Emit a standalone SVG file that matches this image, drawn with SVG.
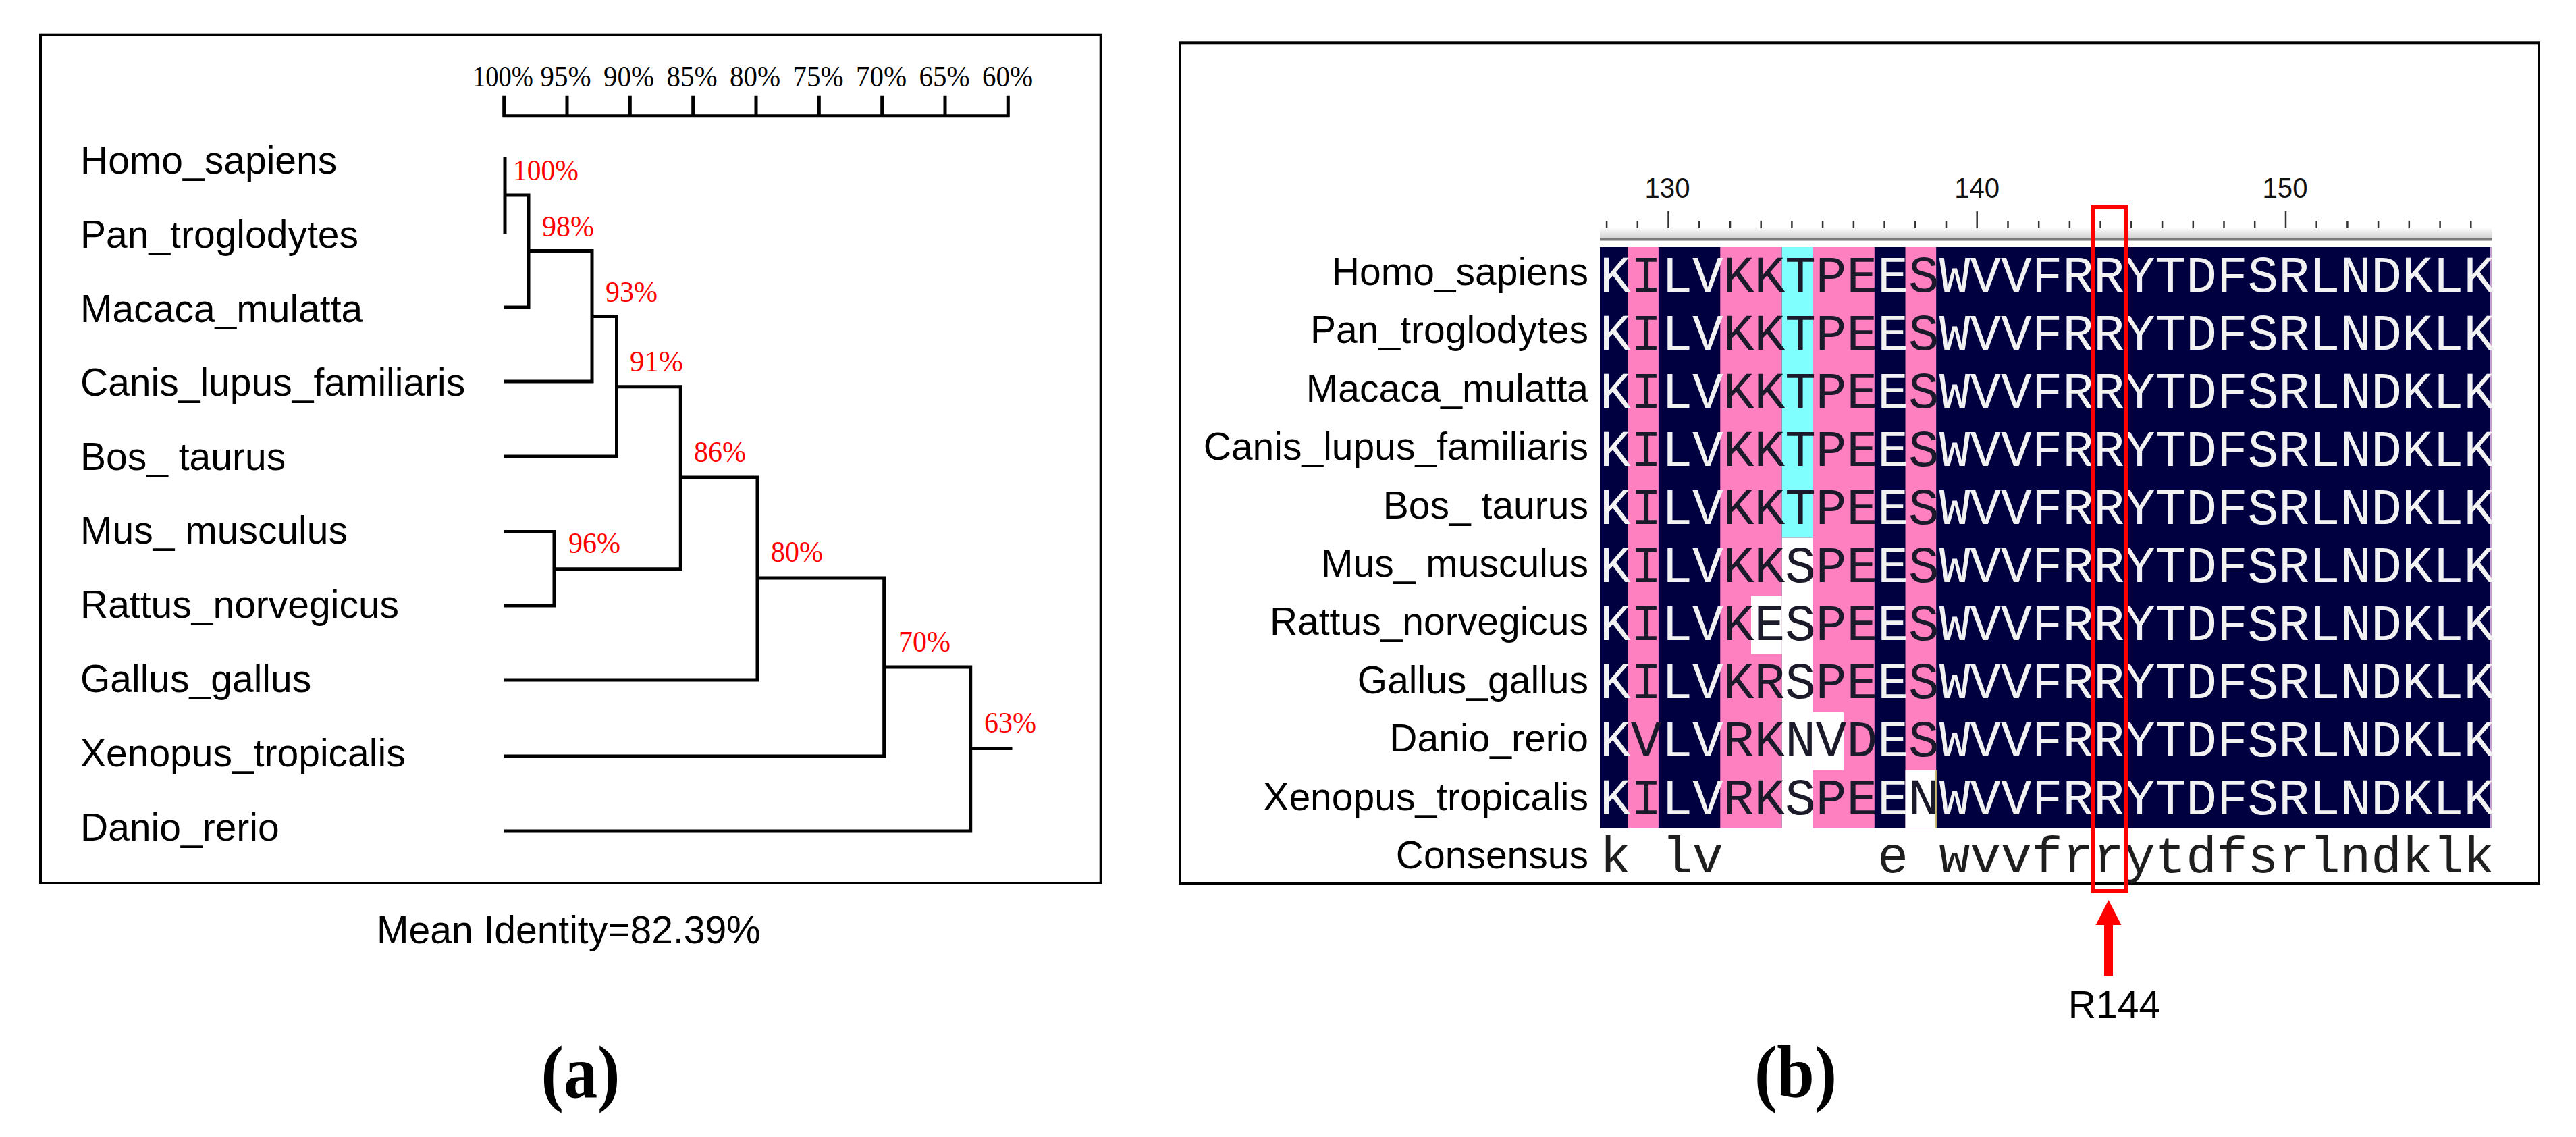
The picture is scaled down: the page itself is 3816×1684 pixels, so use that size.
<svg xmlns="http://www.w3.org/2000/svg" width="3816" height="1684" viewBox="0 0 3816 1684">
<style>
.frame{fill:none;stroke:#000;stroke-width:4}
.tree{fill:none;stroke:#000;stroke-width:5;stroke-linejoin:miter;stroke-linecap:butt}
.lab{font-family:"Liberation Sans",Arial,sans-serif;font-size:57px;fill:#000}
.pct{font-family:"Liberation Serif","Times New Roman",serif;font-size:44px;fill:#FF0000}
.scl{font-family:"Liberation Serif","Times New Roman",serif;font-size:45px;fill:#000;text-anchor:middle}
.seq{font-family:"Liberation Mono","Courier New",monospace;font-size:76.15px}
.L{fill:#F2F2F2}
.D{fill:#1A1A2A}
.num{font-family:"Liberation Sans",Arial,sans-serif;font-size:42px;fill:#111;text-anchor:middle}
.cap{font-family:"Liberation Serif","Times New Roman",serif;font-size:110px;font-weight:bold;fill:#000;text-anchor:middle}
.navy{fill:#000040}
.pink{fill:#FF80C0}
.cyan{fill:#80FFFF}
.white{fill:#FFFFFF}
.tick{stroke:#333;stroke-width:2.5}
</style>
<defs>
<linearGradient id="rulerGrad" x1="0" y1="0" x2="0" y2="1">
<stop offset="0" stop-color="#FAFAFA"/>
<stop offset="1" stop-color="#D4D4D4"/>
</linearGradient>
</defs>
<rect width="3816" height="1684" fill="#FFFFFF"/>

<!-- Panel (a) -->
<g id="panel-a">
<rect class="frame" x="60" y="51.7" width="1570.7" height="1256.3"/>
<g id="scale-a">
<path class="tree" d="M746.7 141.7 V171.7 H1493.3 V141.7 M840 141.7 V171.7 M933.3 141.7 V171.7 M1026.7 141.7 V171.7 M1120 141.7 V171.7 M1213.3 141.7 V171.7 M1306.7 141.7 V171.7 M1400 141.7 V171.7"/>
<text class="scl" x="745" y="128.3" textLength="90" lengthAdjust="spacingAndGlyphs">100%</text>
<text class="scl" x="838" y="128.3" textLength="75" lengthAdjust="spacingAndGlyphs">95%</text>
<text class="scl" x="931.5" y="128.3" textLength="75" lengthAdjust="spacingAndGlyphs">90%</text>
<text class="scl" x="1025" y="128.3" textLength="75" lengthAdjust="spacingAndGlyphs">85%</text>
<text class="scl" x="1118.5" y="128.3" textLength="75" lengthAdjust="spacingAndGlyphs">80%</text>
<text class="scl" x="1212" y="128.3" textLength="75" lengthAdjust="spacingAndGlyphs">75%</text>
<text class="scl" x="1305.5" y="128.3" textLength="75" lengthAdjust="spacingAndGlyphs">70%</text>
<text class="scl" x="1399" y="128.3" textLength="75" lengthAdjust="spacingAndGlyphs">65%</text>
<text class="scl" x="1492.5" y="128.3" textLength="75" lengthAdjust="spacingAndGlyphs">60%</text>
</g>

<g id="leaf-homo"><text class="lab" x="119" y="257">Homo_sapiens</text></g>
<g id="leaf-pan"><text class="lab" x="119" y="367">Pan_troglodytes</text></g>
<g id="leaf-macaca"><text class="lab" x="119" y="477">Macaca_mulatta</text></g>
<g id="leaf-canis"><text class="lab" x="119" y="586">Canis_lupus_familiaris</text></g>
<g id="leaf-bos"><text class="lab" x="119" y="696">Bos_ taurus</text></g>
<g id="leaf-mus"><text class="lab" x="119" y="805">Mus_ musculus</text></g>
<g id="leaf-rattus"><text class="lab" x="119" y="915">Rattus_norvegicus</text></g>
<g id="leaf-gallus"><text class="lab" x="119" y="1025">Gallus_gallus</text></g>
<g id="leaf-xenopus"><text class="lab" x="119" y="1135">Xenopus_tropicalis</text></g>
<g id="leaf-danio"><text class="lab" x="119" y="1245">Danio_rerio</text></g>

<g id="connectors">
<path class="tree" d="M748 232 V347"/>
<path class="tree" d="M748 289 H783 V455 H747"/>
<path class="tree" d="M783 371.5 H877 V565 H747"/>
<path class="tree" d="M877 468.5 H913.5 V676 H747"/>
<path class="tree" d="M913.5 572.7 H1008.3 V842.8 H821"/>
<path class="tree" d="M747 787.5 H821 V897 H747"/>
<path class="tree" d="M1008.3 707 H1122 V1007 H747"/>
<path class="tree" d="M1122 856 H1309.7 V1120 H747"/>
<path class="tree" d="M1309.7 988 H1437.7 V1231 H747"/>
<path class="tree" d="M1437.7 1108.5 H1499.5"/>
</g>

<g id="node-100"><text class="pct" x="760" y="266.7" textLength="97" lengthAdjust="spacingAndGlyphs">100%</text></g>
<g id="node-98"><text class="pct" x="803" y="350" textLength="77" lengthAdjust="spacingAndGlyphs">98%</text></g>
<g id="node-93"><text class="pct" x="897" y="446.7" textLength="77" lengthAdjust="spacingAndGlyphs">93%</text></g>
<g id="node-91"><text class="pct" x="933" y="550" textLength="79" lengthAdjust="spacingAndGlyphs">91%</text></g>
<g id="node-86"><text class="pct" x="1028" y="683.5" textLength="77" lengthAdjust="spacingAndGlyphs">86%</text></g>
<g id="node-96"><text class="pct" x="842" y="818.7" textLength="77" lengthAdjust="spacingAndGlyphs">96%</text></g>
<g id="node-80"><text class="pct" x="1142" y="832" textLength="77" lengthAdjust="spacingAndGlyphs">80%</text></g>
<g id="node-70"><text class="pct" x="1331" y="965" textLength="77" lengthAdjust="spacingAndGlyphs">70%</text></g>
<g id="node-63"><text class="pct" x="1458" y="1085" textLength="77" lengthAdjust="spacingAndGlyphs">63%</text></g>

<text id="mean-identity" class="lab" x="558" y="1397" font-size="54">Mean Identity=82.39%</text>
<text id="cap-a" class="cap" x="860" y="1625" textLength="117" lengthAdjust="spacingAndGlyphs">(a)</text>
</g>

<!-- Panel (b) -->
<g id="panel-b">
<rect class="frame" x="1748" y="63.3" width="2013" height="1245.7"/>

<g id="ruler">
<rect x="2370" y="338" width="1321" height="14" fill="url(#rulerGrad)"/>
<rect x="2370" y="352" width="1321" height="4.5" fill="#7A7A7A"/>
<path class="tick" d="M2380.1 327V338 M2425.8 327V338 M2471.5 313V338 M2517.3 327V338 M2563 327V338 M2608.7 327V338 M2654.4 327V338 M2700.1 327V338 M2745.9 327V338 M2791.6 327V338 M2837.3 327V338 M2883 327V338 M2928.7 313V338 M2974.5 327V338 M3020.2 327V338 M3065.9 327V338 M3111.6 327V338 M3157.3 327V338 M3203.1 327V338 M3248.8 327V338 M3294.5 327V338 M3340.2 327V338 M3386 313V338 M3431.7 327V338 M3477.4 327V338 M3523.1 327V338 M3568.8 327V338 M3614.6 327V338 M3660.3 327V338"/>
<text class="num" x="2470" y="293" textLength="67" lengthAdjust="spacingAndGlyphs">130</text>
<text class="num" x="2928.7" y="293" textLength="67" lengthAdjust="spacingAndGlyphs">140</text>
<text class="num" x="3385" y="293" textLength="67" lengthAdjust="spacingAndGlyphs">150</text>
</g>

<g id="alignment-bg">
<rect class="navy" x="2370" y="366" width="1321" height="860.7"/>
<rect class="pink" x="2411.2" y="366" width="45.7" height="860.7"/>
<rect class="pink" x="2548.3" y="366" width="91.4" height="860.7"/>
<rect class="pink" x="2685.4" y="366" width="91.4" height="860.7"/>
<rect class="pink" x="2822.5" y="366" width="45.7" height="860.7"/>
<rect class="cyan" x="2639.7" y="366" width="45.7" height="430.4"/>
<rect class="white" x="2639.7" y="796.4" width="45.7" height="430.3"/>
<rect class="white" x="2594" y="882.4" width="45.7" height="86.1"/>
<rect class="white" x="2685.4" y="1054.6" width="45.7" height="86"/>
<rect class="white" x="2822.5" y="1140.6" width="45.7" height="86.1"/>
<line x1="2868.2" y1="1140.6" x2="2868.2" y2="1226.7" stroke="#B8A860" stroke-width="2"/>
<line x1="3690" y1="366" x2="3690" y2="1226.7" stroke="#C8A0D0" stroke-width="2"/>
</g>

<g id="row-labels" class="lab" text-anchor="end">
<text x="2353" y="422">Homo_sapiens</text>
<text x="2353" y="508.4">Pan_troglodytes</text>
<text x="2353" y="594.8">Macaca_mulatta</text>
<text x="2353" y="681.2">Canis_lupus_familiaris</text>
<text x="2353" y="767.6">Bos_ taurus</text>
<text x="2353" y="854">Mus_ musculus</text>
<text x="2353" y="940.4">Rattus_norvegicus</text>
<text x="2353" y="1026.8">Gallus_gallus</text>
<text x="2353" y="1113.2">Danio_rerio</text>
<text x="2353" y="1199.6">Xenopus_tropicalis</text>
<text x="2353" y="1286">Consensus</text>
</g>

<g id="sequences" class="seq">
<text x="2370" y="431.5"><tspan class="L">K</tspan><tspan class="D">I</tspan><tspan class="L">LV</tspan><tspan class="D">KKTPE</tspan><tspan class="L">E</tspan><tspan class="D">S</tspan><tspan class="L">WVVFRRYTDFSRLNDKLK</tspan></text>
<text x="2370" y="517.6"><tspan class="L">K</tspan><tspan class="D">I</tspan><tspan class="L">LV</tspan><tspan class="D">KKTPE</tspan><tspan class="L">E</tspan><tspan class="D">S</tspan><tspan class="L">WVVFRRYTDFSRLNDKLK</tspan></text>
<text x="2370" y="603.6"><tspan class="L">K</tspan><tspan class="D">I</tspan><tspan class="L">LV</tspan><tspan class="D">KKTPE</tspan><tspan class="L">E</tspan><tspan class="D">S</tspan><tspan class="L">WVVFRRYTDFSRLNDKLK</tspan></text>
<text x="2370" y="689.7"><tspan class="L">K</tspan><tspan class="D">I</tspan><tspan class="L">LV</tspan><tspan class="D">KKTPE</tspan><tspan class="L">E</tspan><tspan class="D">S</tspan><tspan class="L">WVVFRRYTDFSRLNDKLK</tspan></text>
<text x="2370" y="775.8"><tspan class="L">K</tspan><tspan class="D">I</tspan><tspan class="L">LV</tspan><tspan class="D">KKTPE</tspan><tspan class="L">E</tspan><tspan class="D">S</tspan><tspan class="L">WVVFRRYTDFSRLNDKLK</tspan></text>
<text x="2370" y="861.9"><tspan class="L">K</tspan><tspan class="D">I</tspan><tspan class="L">LV</tspan><tspan class="D">KKSPE</tspan><tspan class="L">E</tspan><tspan class="D">S</tspan><tspan class="L">WVVFRRYTDFSRLNDKLK</tspan></text>
<text x="2370" y="947.9"><tspan class="L">K</tspan><tspan class="D">I</tspan><tspan class="L">LV</tspan><tspan class="D">KESPE</tspan><tspan class="L">E</tspan><tspan class="D">S</tspan><tspan class="L">WVVFRRYTDFSRLNDKLK</tspan></text>
<text x="2370" y="1034"><tspan class="L">K</tspan><tspan class="D">I</tspan><tspan class="L">LV</tspan><tspan class="D">KRSPE</tspan><tspan class="L">E</tspan><tspan class="D">S</tspan><tspan class="L">WVVFRRYTDFSRLNDKLK</tspan></text>
<text x="2370" y="1120.1"><tspan class="L">K</tspan><tspan class="D">V</tspan><tspan class="L">LV</tspan><tspan class="D">RKNVD</tspan><tspan class="L">E</tspan><tspan class="D">S</tspan><tspan class="L">WVVFRRYTDFSRLNDKLK</tspan></text>
<text x="2370" y="1206.1"><tspan class="L">K</tspan><tspan class="D">I</tspan><tspan class="L">LV</tspan><tspan class="D">RKSPE</tspan><tspan class="L">E</tspan><tspan class="D">N</tspan><tspan class="L">WVVFRRYTDFSRLNDKLK</tspan></text>
<text x="2370" y="1292" fill="#1E1E1E" xml:space="preserve">k lv     e wvvfrrytdfsrlndklk</text>
</g>

<g id="highlight-r144">
<rect x="3100" y="306" width="50" height="1013.7" fill="none" stroke="#FF0000" stroke-width="6"/>
<polygon points="3123.5,1333 3142.5,1370 3130,1370 3130,1445 3117,1445 3117,1370 3104.5,1370" fill="#FF0000"/>
<text class="lab" x="3132" y="1508" font-size="56" text-anchor="middle">R144</text>
</g>

<text id="cap-b" class="cap" x="2660" y="1625" textLength="122" lengthAdjust="spacingAndGlyphs">(b)</text>
</g>
</svg>
